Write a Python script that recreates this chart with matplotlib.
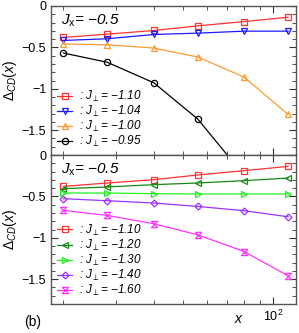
import numpy as np
import matplotlib.pyplot as plt
from matplotlib.path import Path
from matplotlib.ticker import LogLocator, MultipleLocator, NullFormatter

plt.rcParams['font.family'] = ['Liberation Sans', 'DejaVu Sans']
plt.rcParams['mathtext.fontset'] = 'custom'
plt.rcParams['mathtext.it'] = 'Liberation Sans:italic'
plt.rcParams['mathtext.rm'] = 'Liberation Sans'

# system sizes
x = [20, 28, 40, 56, 80, 112]

# top panel: J_perp = -1.10, -1.04, -1.00, -0.95
top_labels = ['-1.10', '-1.04', '-1.00', '-0.95']
top_a = [-0.38, -0.34, -0.296, -0.24, -0.188, -0.136]
top_b = [-0.416, -0.396, -0.344, -0.328, -0.304, -0.304]
top_c = [-0.46, -0.468, -0.508, -0.616, -0.86, -1.31]
top_d = [-0.568, -0.68, -0.928, -1.365, -2.05, -2.9]

# bottom panel: J_perp = -1.10, -1.20, -1.30, -1.40, -1.60
bot_labels = ['-1.10', '-1.20', '-1.30', '-1.40', '-1.60']
bot_a = [-0.379, -0.338, -0.298, -0.241, -0.189, -0.137]
bot_b = [-0.407, -0.386, -0.358, -0.338, -0.310, -0.278]
bot_c = [-0.459, -0.459, -0.467, -0.471, -0.471, -0.471]
bot_d = [-0.528, -0.552, -0.580, -0.621, -0.673, -0.746]
bot_e = [-0.669, -0.730, -0.830, -0.964, -1.166, -1.46]

# hourglass marker for the last series
hourglass = Path([(-1, 1), (1, 1), (-1, -1), (1, -1), (-1, 1)])

fig = plt.figure(figsize=(2.99, 3.33), dpi=100)
ax1 = fig.add_axes([0.171, 0.5345, 0.819, 0.4475])
ax2 = fig.add_axes([0.171, 0.087, 0.819, 0.4475])


def style(ax):
    ax.set_xscale('log')
    ax.set_xlim(18.2, 119)
    ax.set_ylim(-1.8, 0)
    ax.yaxis.set_major_locator(MultipleLocator(0.5))
    ax.yaxis.set_minor_locator(MultipleLocator(0.1))
    ax.xaxis.set_major_locator(LogLocator(base=10))
    ax.xaxis.set_minor_locator(LogLocator(base=10, subs=np.arange(2, 10)))
    ax.xaxis.set_minor_formatter(NullFormatter())
    ax.tick_params(which='both', direction='in', top=True, right=True,
                   labelsize=9, colors='#333333', labelcolor='black')
    ax.tick_params(which='major', length=5, width=0.8)
    ax.tick_params(which='minor', length=3, width=0.6)
    for s in ax.spines.values():
        s.set_color('#555555')
        s.set_linewidth(1.0)
    ax.set_yticks([0, -0.5, -1, -1.5])
    ax.set_yticklabels(['0', '\u22120.5', '\u22121', '\u22121.5'])
    ax.set_ylabel(r'$\Delta_{CD}(x)$', fontsize=10, labelpad=2)
    ax.text(0.04, 0.955, r'$J_{\mathrm{x}}$= ' + '\u22120.5',
            transform=ax.transAxes, fontsize=11, style='italic', va='top')


style(ax1)
style(ax2)
ax1.tick_params(axis='x', labelbottom=False)

kw = dict(lw=0.9, ms=4.5, mfc='none', mew=0.9)
top_series = [(top_a, '#ff3333', 's'), (top_b, '#1a1aff', 'v'),
              (top_c, '#ff9a2e', '^'), (top_d, 'black', 'o')]
for (vals, c, m), lab in zip(top_series, top_labels):
    ax1.plot(x, vals, color=c, marker=m, mec=c,
             label=r': $J_{\perp}$= ' + lab.replace('-', '\u2212'), **kw)

bot_series = [(bot_a, '#ff3333', 's'), (bot_b, '#168a16', '<'),
              (bot_c, '#22ee22', '>'), (bot_d, '#9933ff', 'D'),
              (bot_e, '#ff33ff', hourglass)]
for (vals, c, m), lab in zip(bot_series, bot_labels):
    k = dict(kw)
    k['ms'] = 3.5 if m == 'D' else 4.5
    ax2.plot(x, vals, color=c, marker=m, mec=c,
             label=r': $J_{\perp}$= ' + lab.replace('-', '\u2212'), **k)

for ax in (ax1, ax2):
    leg = ax.legend(loc='lower left', fontsize=8.5, frameon=False,
                    handlelength=1.3, handletextpad=0.6, labelspacing=0.0,
                    borderaxespad=0.1, bbox_to_anchor=(0.0, 0.0))
    for t in leg.get_texts():
        t.set_style('italic')

ax2.set_xticks([100])
ax2.set_xticklabels([r'$10^2$'])
fig.text(238 / 299, 1 - 319 / 333, 'x', fontsize=10, style='italic',
         ha='center', va='center')
fig.text(33 / 299, 1 - 322 / 333, '(b)', fontsize=10, ha='center', va='center')

fig.savefig('out.png', dpi=100)
